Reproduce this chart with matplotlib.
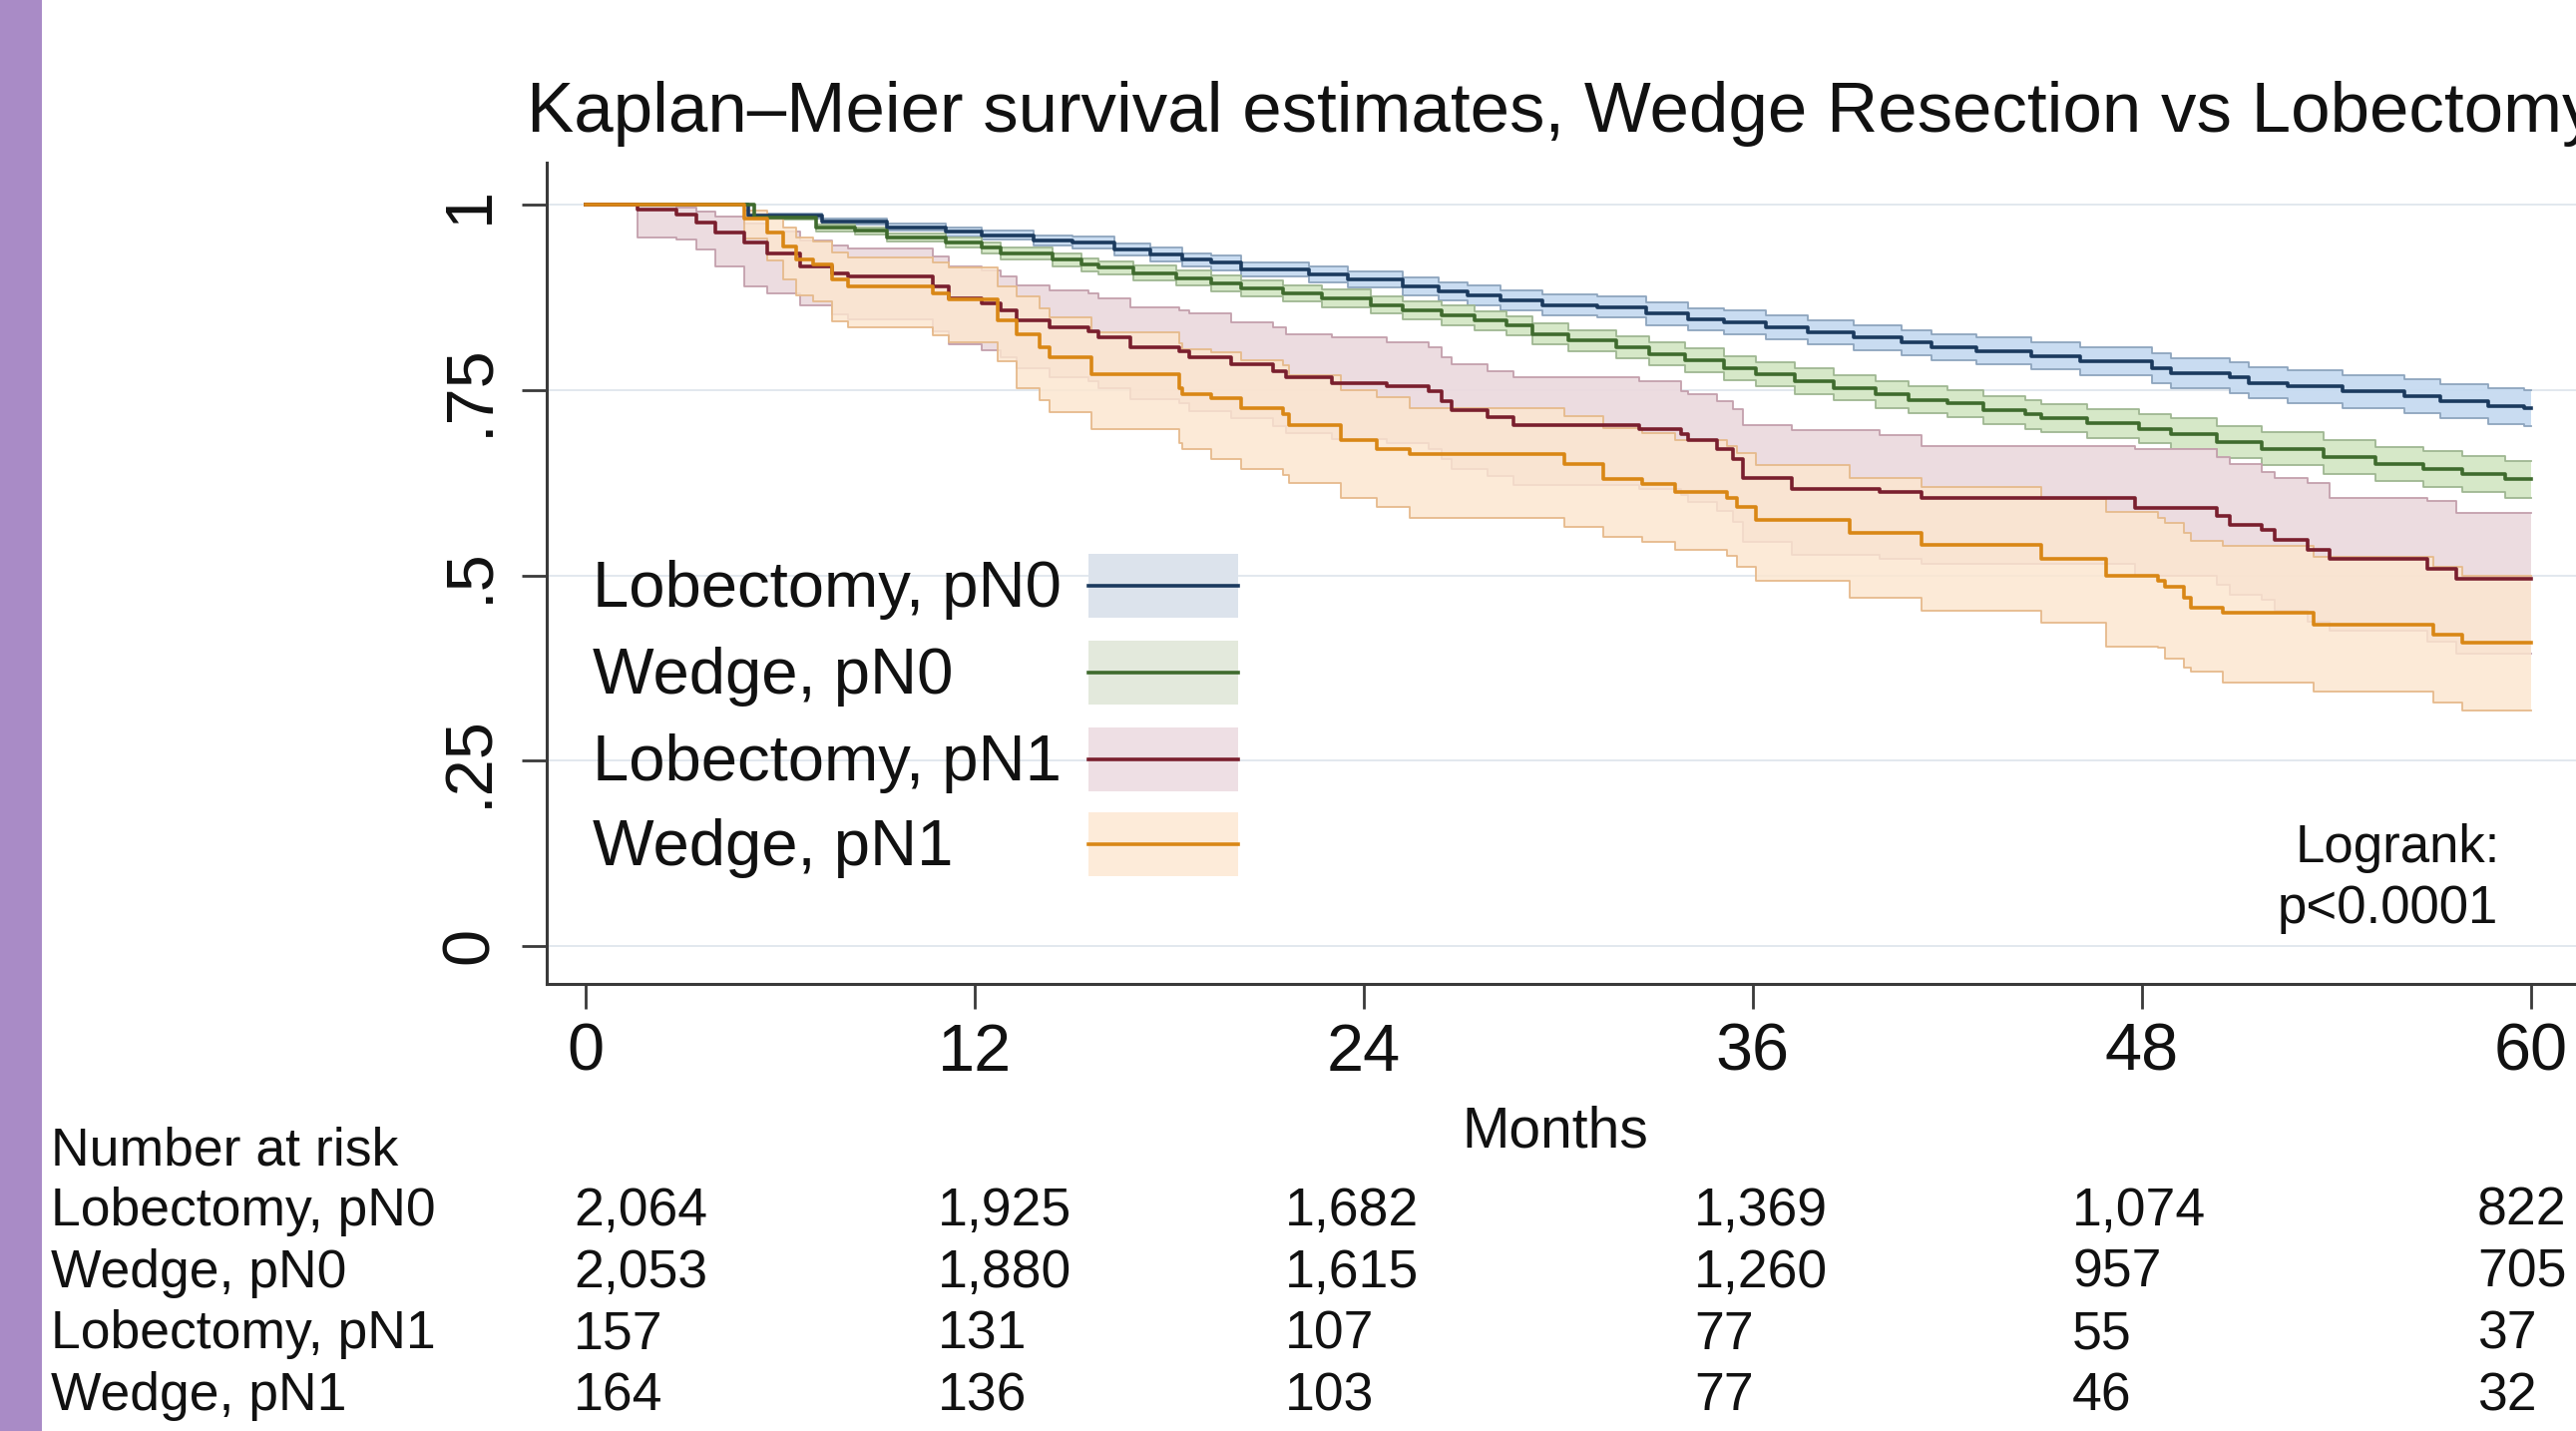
import matplotlib
matplotlib.use("Agg")
import matplotlib.pyplot as plt
from matplotlib.patches import Rectangle
from matplotlib.lines import Line2D

plt.rcParams['font.family'] = ['Liberation Sans', 'DejaVu Sans']

W, H = 2582, 1434

# ---------------- data ----------------
title = "Kaplan\u2013Meier survival estimates, Wedge Resection vs Lobectomy"
groups = ["Lobectomy, pN0", "Wedge, pN0", "Lobectomy, pN1", "Wedge, pN1"]

lob_n0_t  = [0, 5.0, 7.3, 9.3, 11.1, 12.2, 13.8, 15.0, 16.3, 17.4, 18.4, 19.3, 20.2, 22.3, 23.5, 25.2, 26.3, 27.2, 28.2, 29.5,
             31.2, 32.7, 34.0, 35.1, 36.4, 37.7, 39.1, 40.6, 41.5, 42.9, 44.6, 46.1, 48.3, 48.9, 50.7, 51.3, 52.5, 54.2, 56.1, 57.2, 58.7, 59.8]
lob_n0_s  = [1.000, 0.985, 0.977, 0.970, 0.964, 0.959, 0.952, 0.949, 0.940, 0.933, 0.926, 0.922, 0.913, 0.906, 0.899, 0.890, 0.883, 0.878, 0.871, 0.865,
             0.862, 0.853, 0.846, 0.842, 0.835, 0.828, 0.821, 0.814, 0.808, 0.803, 0.796, 0.789, 0.780, 0.773, 0.767, 0.760, 0.755, 0.748, 0.742, 0.735, 0.728, 0.726]
lob_n0_lo = [1.000, 0.982, 0.973, 0.965, 0.958, 0.953, 0.945, 0.941, 0.932, 0.924, 0.917, 0.912, 0.903, 0.895, 0.888, 0.878, 0.871, 0.865, 0.858, 0.851,
             0.848, 0.838, 0.831, 0.826, 0.819, 0.812, 0.804, 0.797, 0.790, 0.785, 0.778, 0.770, 0.760, 0.753, 0.746, 0.739, 0.733, 0.726, 0.719, 0.712, 0.704, 0.702]
lob_n0_hi = [1.000, 0.988, 0.981, 0.975, 0.970, 0.965, 0.959, 0.957, 0.948, 0.942, 0.935, 0.932, 0.923, 0.917, 0.910, 0.902, 0.895, 0.891, 0.884, 0.879,
             0.876, 0.868, 0.861, 0.858, 0.851, 0.844, 0.838, 0.831, 0.826, 0.821, 0.814, 0.808, 0.800, 0.793, 0.788, 0.781, 0.777, 0.770, 0.765, 0.758, 0.752, 0.750]

wed_n0_t  = [0, 5.2, 7.1, 8.3, 9.3, 11.1, 12.2, 12.8, 14.4, 15.3, 15.8, 16.9, 18.2, 19.3, 20.2, 21.5, 22.7, 24.2, 25.2, 26.4, 27.4, 28.4, 29.2,
             30.3, 31.8, 32.8, 33.9, 35.1, 36.1, 37.3, 38.5, 39.8, 40.8, 42.0, 43.1, 44.4, 44.9, 46.3, 47.9, 48.9, 50.3, 51.7, 53.6, 55.2, 56.7, 57.9, 59.2]
wed_n0_s  = [1.000, 0.983, 0.969, 0.965, 0.956, 0.949, 0.942, 0.935, 0.926, 0.919, 0.915, 0.908, 0.901, 0.894, 0.887, 0.881, 0.874, 0.865, 0.858, 0.851, 0.844, 0.837, 0.826,
             0.817, 0.808, 0.799, 0.790, 0.780, 0.771, 0.762, 0.753, 0.744, 0.737, 0.732, 0.723, 0.717, 0.712, 0.705, 0.698, 0.691, 0.680, 0.671, 0.660, 0.650, 0.644, 0.637, 0.630]
wed_n0_lo = [1.000, 0.980, 0.964, 0.960, 0.950, 0.942, 0.935, 0.927, 0.917, 0.910, 0.906, 0.898, 0.891, 0.883, 0.876, 0.870, 0.862, 0.853, 0.846, 0.838, 0.831, 0.824, 0.812,
             0.803, 0.793, 0.784, 0.774, 0.764, 0.755, 0.745, 0.736, 0.726, 0.719, 0.714, 0.704, 0.698, 0.693, 0.685, 0.678, 0.670, 0.659, 0.649, 0.637, 0.627, 0.620, 0.613, 0.605]
wed_n0_hi = [1.000, 0.986, 0.974, 0.970, 0.962, 0.956, 0.949, 0.943, 0.935, 0.928, 0.924, 0.918, 0.911, 0.905, 0.898, 0.892, 0.886, 0.877, 0.870, 0.864, 0.857, 0.850, 0.840,
             0.831, 0.823, 0.814, 0.806, 0.796, 0.787, 0.779, 0.770, 0.762, 0.755, 0.750, 0.742, 0.736, 0.731, 0.725, 0.718, 0.712, 0.701, 0.693, 0.683, 0.673, 0.668, 0.661, 0.655]

lob_n1_t  = [0, 1.6, 2.8, 3.4, 4.0, 4.9, 5.6, 6.6, 7.6, 8.1, 10.7, 11.2, 12.2, 12.8, 13.3, 14.3, 15.5, 15.8, 16.8, 18.3, 18.6, 19.9, 21.2, 21.6, 23.0, 24.7,
             26.0, 26.4, 26.7, 27.8, 28.6, 32.5, 33.8, 34.0, 34.9, 35.4, 35.7, 37.2, 39.9, 41.2, 47.8, 50.3, 50.7, 51.7, 52.1, 53.1, 53.8, 56.8, 57.7]
lob_n1_s  = [1.000, 0.994, 0.987, 0.976, 0.963, 0.949, 0.935, 0.917, 0.908, 0.903, 0.890, 0.874, 0.867, 0.858, 0.844, 0.835, 0.830, 0.821, 0.808, 0.803, 0.794, 0.785, 0.776, 0.767, 0.760, 0.755,
             0.748, 0.735, 0.723, 0.714, 0.703, 0.698, 0.691, 0.682, 0.671, 0.657, 0.632, 0.616, 0.612, 0.605, 0.591, 0.580, 0.568, 0.562, 0.548, 0.534, 0.523, 0.509, 0.495]
lob_n1_lo = [1.000, 0.956, 0.953, 0.940, 0.917, 0.890, 0.880, 0.865, 0.852, 0.846, 0.830, 0.812, 0.804, 0.794, 0.779, 0.768, 0.762, 0.752, 0.738, 0.732, 0.722, 0.712, 0.702, 0.692, 0.684, 0.679,
             0.671, 0.657, 0.644, 0.634, 0.622, 0.617, 0.609, 0.599, 0.587, 0.572, 0.545, 0.528, 0.523, 0.515, 0.499, 0.487, 0.474, 0.467, 0.452, 0.437, 0.425, 0.410, 0.395]
lob_n1_hi = [1.000, 0.999, 0.997, 0.991, 0.984, 0.975, 0.964, 0.952, 0.945, 0.941, 0.931, 0.917, 0.911, 0.903, 0.891, 0.885, 0.881, 0.874, 0.862, 0.858, 0.853, 0.842, 0.835, 0.826, 0.821, 0.814,
             0.808, 0.794, 0.785, 0.776, 0.767, 0.762, 0.748, 0.745, 0.735, 0.725, 0.703, 0.696, 0.689, 0.675, 0.671, 0.660, 0.650, 0.639, 0.632, 0.625, 0.605, 0.600, 0.584]

wed_n1_t  = [0, 4.9, 5.6, 6.1, 6.5, 7.0, 7.6, 8.1, 10.7, 11.2, 12.7, 13.3, 14.0, 14.3, 15.6, 18.3, 18.4, 19.3, 20.2, 21.5, 21.7, 23.3, 24.4, 25.4,
             30.2, 31.4, 32.6, 33.6, 35.2, 35.5, 36.1, 39.0, 41.2, 44.9, 46.9, 48.5, 48.7, 49.3, 49.5, 50.5, 53.3, 57.0, 57.9]
wed_n1_s  = [1.000, 0.981, 0.963, 0.944, 0.926, 0.919, 0.899, 0.890, 0.881, 0.872, 0.844, 0.826, 0.808, 0.794, 0.771, 0.753, 0.744, 0.739, 0.726, 0.717, 0.703, 0.682, 0.671, 0.664,
             0.650, 0.630, 0.623, 0.612, 0.605, 0.593, 0.575, 0.557, 0.541, 0.523, 0.500, 0.493, 0.484, 0.470, 0.457, 0.449, 0.434, 0.420, 0.409]
wed_n1_lo = [1.000, 0.955, 0.925, 0.900, 0.878, 0.870, 0.843, 0.835, 0.824, 0.815, 0.789, 0.753, 0.736, 0.721, 0.698, 0.678, 0.671, 0.657, 0.644, 0.636, 0.625, 0.605, 0.593, 0.577,
             0.566, 0.552, 0.545, 0.534, 0.527, 0.511, 0.493, 0.470, 0.452, 0.436, 0.404, 0.402, 0.388, 0.376, 0.370, 0.356, 0.343, 0.329, 0.318]
wed_n1_hi = [1.000, 0.993, 0.982, 0.970, 0.956, 0.951, 0.936, 0.929, 0.922, 0.915, 0.890, 0.876, 0.861, 0.848, 0.828, 0.813, 0.805, 0.801, 0.790, 0.783, 0.770, 0.750, 0.740, 0.726,
             0.715, 0.699, 0.692, 0.683, 0.675, 0.665, 0.649, 0.632, 0.620, 0.603, 0.585, 0.578, 0.571, 0.558, 0.547, 0.540, 0.525, 0.512, 0.500]

follow_up_end = 60

risk_header = "Number at risk"
risk_lob_n0 = ["2,064", "1,925", "1,682", "1,369", "1,074", "822"]
risk_wed_n0 = ["2,053", "1,880", "1,615", "1,260", "957", "705"]
risk_lob_n1 = ["157", "131", "107", "77", "55", "37"]
risk_wed_n1 = ["164", "136", "103", "77", "46", "32"]

xticks = [0, 12, 24, 36, 48, 60]
yticks = [0, 0.25, 0.5, 0.75, 1]
yticklabels = ["0", ".25", ".5", ".75", "1"]
xlabel = "Months"
logrank_text = ["Logrank:", "p<0.0001"]

# ---------------- styles ----------------
line_cols = ["#1B3A5E", "#3F6B2E", "#7A1F2E", "#D98716"]
band_cols = ["#C6DBF1", "#D4E7C5", "#EBDADF", "#FCE6CF"]
band_alpha = [0.95, 0.95, 0.95, 0.82]
edge_cols = ["#8EA5BE", "#9FB792", "#C4A0AD", "#E6BA8C"]
key_cols = ["#DCE3EC", "#E3E9DC", "#EEDFE4", "#FDEBD9"]

def fx(px):
    return px / W

def fy(py):
    return 1 - py / H

fig = plt.figure(figsize=(W / 100, H / 100), dpi=100)
fig.patch.set_facecolor("white")

# purple side strip
fig.patches.append(Rectangle((0, 0), fx(42), 1, transform=fig.transFigure,
                             facecolor="#A98BC6", edgecolor="none", zorder=0))

ax_left, ax_bottom, ax_top = 548.3, 986, 163
ax = fig.add_axes([fx(ax_left), fy(ax_bottom), 1 - fx(ax_left), (ax_bottom - ax_top) / H])
px_per_month = 32.49
ax.set_xlim(-1.2, -1.2 + (W - ax_left) / px_per_month)
ax.set_ylim(-0.0513, 1.057)

series = [
    (lob_n0_t, lob_n0_s, lob_n0_lo, lob_n0_hi),
    (wed_n0_t, wed_n0_s, wed_n0_lo, wed_n0_hi),
    (lob_n1_t, lob_n1_s, lob_n1_lo, lob_n1_hi),
    (wed_n1_t, wed_n1_s, wed_n1_lo, wed_n1_hi),
]

def ext(t, v):
    return list(t) + [follow_up_end], list(v) + [v[-1]]

for i, (t, s, lo, hi) in enumerate(series):
    tt, lo2 = ext(t, lo)
    _, hi2 = ext(t, hi)
    z = 2 + i * 0.1
    ax.fill_between(tt, lo2, hi2, step="post", facecolor=band_cols[i], alpha=band_alpha[i],
                    edgecolor="none", zorder=z)
    ax.step(tt, lo2, where="post", color=edge_cols[i], lw=1.3, zorder=z + 0.05)
    ax.step(tt, hi2, where="post", color=edge_cols[i], lw=1.3, zorder=z + 0.05)

for i, (t, s, lo, hi) in enumerate(series):
    tt, s2 = ext(t, s)
    ax.step(tt, s2, where="post", color=line_cols[i], lw=2.6, zorder=4)

for sp in ["top", "right"]:
    ax.spines[sp].set_visible(False)
for sp in ["left", "bottom"]:
    ax.spines[sp].set_color("#3A3A3A")
    ax.spines[sp].set_linewidth(2.2)

ax.set_xticks(xticks)
ax.set_xticklabels([str(v) for v in xticks])
ax.set_yticks(yticks)
ax.set_yticklabels(yticklabels, rotation=90, va="center")
ax.tick_params(axis="both", direction="out", length=18, width=2, color="#3A3A3A",
               labelsize=48, labelcolor="#111111")
ax.tick_params(axis="x", pad=10)
ax.tick_params(axis="y", pad=15)
ax.yaxis.grid(True, color="#E2E8EE", lw=1.4, zorder=0)
ax.set_axisbelow(True)

# title
fig.text(fx(528), fy(132), title, fontsize=51, ha="left", va="baseline", color="#111111")

# x label
fig.text(fx(1559), fy(1150), xlabel, fontsize=41, ha="center", va="baseline", color="#111111")

# logrank
fig.text(fx(2506), fy(864), logrank_text[0], fontsize=38, ha="right", va="baseline", color="#111111")
fig.text(fx(2504), fy(925), logrank_text[1], fontsize=38, ha="right", va="baseline", color="#111111")

# legend (manual)
leg_base = [608, 695, 782, 867]
for i, g in enumerate(groups):
    b = leg_base[i]
    c = b - 21
    fig.patches.append(Rectangle((fx(1091), fy(c + 32)), 150 / W, 64 / H, transform=fig.transFigure,
                                 facecolor=key_cols[i], edgecolor="none", zorder=5))
    fig.lines.append(Line2D([fx(1091), fx(1241)], [fy(c), fy(c)], transform=fig.transFigure,
                            color=line_cols[i], lw=2.6, zorder=6))
    fig.text(fx(594), fy(b), g, fontsize=47, ha="left", va="baseline", color="#111111", zorder=6)

# number at risk table
fig.text(fx(51), fy(1167), risk_header, fontsize=38.5, ha="left", va="baseline", color="#111111")
col_x = [575, 940, 1288, 1698, 2077, 2483]
row_base = [1228, 1290, 1351.5, 1413]
rows = [risk_lob_n0, risk_wed_n0, risk_lob_n1, risk_wed_n1]
for r, (g, vals) in enumerate(zip(groups, rows)):
    fig.text(fx(51), fy(row_base[r]), g, fontsize=38.5, ha="left", va="baseline", color="#111111")
    for cx, v in zip(col_x, vals):
        fig.text(fx(cx), fy(row_base[r]), v, fontsize=38.5, ha="left", va="baseline", color="#111111")

fig.savefig("out.png", dpi=100)
